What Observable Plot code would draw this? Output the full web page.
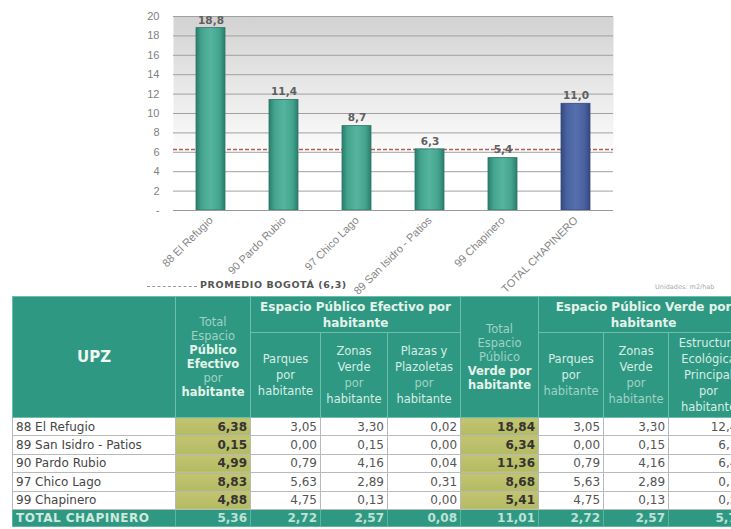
<!DOCTYPE html>
<html>
<head>
<meta charset="utf-8">
<script src="https://cdn.jsdelivr.net/npm/d3@7"></script>
<script src="https://cdn.jsdelivr.net/npm/@observablehq/plot@0.6"></script>
<style>
  html, body { margin: 0; padding: 0; background: #fff; width: 731px; height: 529px; overflow: hidden; }
  #chart svg { display: block; overflow: visible; }
  #legend { position: relative; height: 16px; font-family: "DejaVu Sans", Verdana, sans-serif; }
  #legend .dash { position: absolute; left: 147px; top: 6px; width: 50px; border-top: 1.5px dashed #999; }
  #legend .txt { position: absolute; left: 200px; top: -1px; font-size: 9.5px; font-weight: bold; color: #555; letter-spacing: 0.6px; }
  #legend .units { position: absolute; left: 655px; top: 3px; font-size: 6.5px; color: #aaa; }
  #tbl { position: relative; left: 12px; border-collapse: collapse; table-layout: fixed; font-family: "DejaVu Sans", Verdana, sans-serif; }
  #tbl th { background: #2f9883; color: #e4f3ea; border: 1px solid #6cbfae; font-weight: bold; font-size: 12px; line-height: 16px; padding: 0 2px; vertical-align: middle; overflow: hidden; }
  #tbl th.tothead { font-size: 11.5px; line-height: 14px; }
  #tbl th.sub { font-weight: normal; color: #d6eee3; font-size: 11.5px; }
  #tbl th .faint { color: #9fd3c4; font-weight: normal; }
  #tbl th.upz { font-size: 15px; color: #f0f8f2; }
  #tbl td { height: 17.4px; font-size: 12px; padding: 0 3px; border: 1px solid #b9b9b9; color: #555; text-align: right; background: #fff; white-space: nowrap; overflow: hidden; }
  #tbl td.name { text-align: left; color: #454545; }
  #tbl td.tot { background: linear-gradient(#c3c472, #b3bb62); font-weight: bold; color: #333; border-right: 1px dashed #444; }
  #tbl td.dash { border-right: 1px dashed #888; }
  #tbl tr.total td { background: #2f9883; color: #bfe2d6; font-weight: bold; border: 1px solid #5cb5a2; height: 16.5px; }
  #tbl tr.total td.name { color: #cfe9df; letter-spacing: 0.5px; }
</style>
</head>
<body>
<div id="chart"></div>
<div id="legend"><div class="dash"></div><div class="txt">PROMEDIO BOGOTÁ (6,3)</div><div class="units">Unidades: m2/hab</div></div>
<table id="tbl"></table>
<script>
// ---- chart data ----
const chartCategories = ["88 El Refugio", "90 Pardo Rubio", "97 Chico Lago", "89 San Isidro - Patios", "99 Chapinero", "TOTAL CHAPINERO"];
const chartValues = [18.8, 11.4, 8.7, 6.3, 5.4, 11.0];
const promedioBogota = 6.3;
const yTicks = [0, 2, 4, 6, 8, 10, 12, 14, 16, 18, 20];
const totalCategory = "TOTAL CHAPINERO";

// ---- table data ----
const upzNames = ["88 El Refugio", "89 San Isidro - Patios", "90 Pardo Rubio", "97 Chico Lago", "99 Chapinero"];
const totalEPE = [6.38, 0.15, 4.99, 8.83, 4.88];
const parquesEPE = [3.05, 0.00, 0.79, 5.63, 4.75];
const zonasEPE = [3.30, 0.15, 4.16, 2.89, 0.13];
const plazasEPE = [0.02, 0.00, 0.04, 0.31, 0.00];
const totalEPV = [18.84, 6.34, 11.36, 8.68, 5.41];
const parquesEPV = [3.05, 0.00, 0.79, 5.63, 4.75];
const zonasEPV = [3.30, 0.15, 4.16, 2.89, 0.13];
const estructuraEPV = [12.49, 6.19, 6.41, 0.16, 0.53];
const totalRowLabel = "TOTAL CHAPINERO";
const totalRow = [5.36, 2.72, 2.57, 0.08, 11.01, 2.72, 2.57, 5.72];

const fmt1 = v => v.toFixed(1).replace(".", ",");
const fmt2 = v => v.toFixed(2).replace(".", ",");

const data = chartCategories.map((c, i) => ({name: c, value: chartValues[i]}));
const font = "'Liberation Sans', Arial, sans-serif";

const svg = Plot.plot({
  width: 731,
  height: 280,
  marginLeft: 173,
  marginRight: 118,
  marginTop: 16,
  marginBottom: 70,
  style: {fontFamily: font, fontSize: "10px", color: "#808080", background: "transparent"},
  x: {domain: chartCategories, paddingInner: 0.6, paddingOuter: 0.3, label: null},
  y: {domain: [0, 20], label: null},
  marks: [
    Plot.frame({fill: "url(#plotbg)", stroke: null}),
    Plot.gridY(yTicks.filter(t => t > 0), {stroke: "#a0a0a0", strokeOpacity: 1, strokeWidth: 1}),
    Plot.ruleY([promedioBogota], {stroke: "#b35c5c", strokeWidth: 1.5, strokeDasharray: "4,2"}),
    Plot.barY(data.filter(d => d.name !== totalCategory), {x: "name", y: "value", fill: "url(#teal)", stroke: "#2a7565", strokeWidth: 0.8}),
    Plot.barY(data.filter(d => d.name === totalCategory), {x: "name", y: "value", fill: "url(#blue)", stroke: "#34497c", strokeWidth: 0.8}),
    Plot.text(data, {x: "name", y: "value", text: d => fmt1(d.value), dy: -8, fontWeight: "bold", fill: "#5f5f5f", fontSize: 10.5, fontFamily: "'DejaVu Sans', sans-serif"}),
    Plot.ruleY([0], {stroke: "#999", strokeWidth: 1}),
    Plot.axisY({ticks: yTicks, tickSize: 0, tickPadding: 14, fontSize: 11, tickFormat: d => d === 0 ? "-" : String(d), fill: "#808080"}),
    Plot.axisX({tickSize: 0, tickPadding: 8, tickRotate: -45, fontSize: 11, fill: "#858585", label: null})
  ]
});

d3.select(svg).insert("defs", ":first-child").html(`
  <linearGradient id="plotbg" x1="0" y1="0" x2="0" y2="1">
    <stop offset="0" stop-color="#d2d2d2"/>
    <stop offset="0.75" stop-color="#ffffff"/>
    <stop offset="1" stop-color="#ffffff"/>
  </linearGradient>
  <linearGradient id="teal" x1="0" y1="0" x2="1" y2="0">
    <stop offset="0" stop-color="#2b7d6c"/>
    <stop offset="0.2" stop-color="#44a58f"/>
    <stop offset="0.5" stop-color="#55b49d"/>
    <stop offset="0.8" stop-color="#44a58f"/>
    <stop offset="1" stop-color="#2b7d6c"/>
  </linearGradient>
  <linearGradient id="blue" x1="0" y1="0" x2="1" y2="0">
    <stop offset="0" stop-color="#34497e"/>
    <stop offset="0.2" stop-color="#4a62a0"/>
    <stop offset="0.5" stop-color="#5670ad"/>
    <stop offset="0.8" stop-color="#4a62a0"/>
    <stop offset="1" stop-color="#34497e"/>
  </linearGradient>`);

document.getElementById("chart").appendChild(svg);

// ---- table ----
const colWidths = [163, 75, 70, 67, 73, 78, 65, 65, 80];
const tbl = d3.select("#tbl");
tbl.append("colgroup").selectAll("col").data(colWidths).join("col").style("width", d => d + "px");
tbl.style("width", d3.sum(colWidths) + "px");

const head1 = `
<tr style="height:36px">
  <th rowspan="2" class="upz">UPZ</th>
  <th rowspan="2" class="tothead"><span class="faint">Total<br>Espacio</span><br>Público<br>Efectivo<br><span class="faint">por</span><br>habitante</th>
  <th colspan="3">Espacio Público Efectivo por habitante</th>
  <th rowspan="2" class="tothead"><span class="faint">Total<br>Espacio<br>Público</span><br>Verde por<br>habitante</th>
  <th colspan="3">Espacio Público Verde por habitante</th>
</tr>
<tr style="height:85px">
  <th class="sub">Parques<br>por<br>habitante</th>
  <th class="sub">Zonas<br>Verde<br><span class="faint">por</span><br>habitante</th>
  <th class="sub">Plazas y<br>Plazoletas<br><span class="faint">por</span><br>habitante</th>
  <th class="sub">Parques<br>por<br><span class="faint">habitante</span></th>
  <th class="sub">Zonas<br>Verde<br><span class="faint">por</span><br><span class="faint">habitante</span></th>
  <th class="sub">Estructura<br>Ecológica<br>Principal<br>por<br>habitante</th>
</tr>`;
tbl.append("thead").html(head1);

const tbody = tbl.append("tbody");
upzNames.forEach((n, i) => {
  const tr = tbody.append("tr");
  tr.append("td").attr("class", "name").text(n);
  tr.append("td").attr("class", "tot").text(fmt2(totalEPE[i]));
  tr.append("td").attr("class", "dash").text(fmt2(parquesEPE[i]));
  tr.append("td").attr("class", "dash").text(fmt2(zonasEPE[i]));
  tr.append("td").attr("class", "dash").text(fmt2(plazasEPE[i]));
  tr.append("td").attr("class", "tot").text(fmt2(totalEPV[i]));
  tr.append("td").attr("class", "dash").text(fmt2(parquesEPV[i]));
  tr.append("td").attr("class", "dash").text(fmt2(zonasEPV[i]));
  tr.append("td").text(fmt2(estructuraEPV[i]));
});
const trT = tbody.append("tr").attr("class", "total");
trT.append("td").attr("class", "name").text(totalRowLabel);
totalRow.forEach(v => trT.append("td").text(fmt2(v)));
</script>
</body>
</html>
